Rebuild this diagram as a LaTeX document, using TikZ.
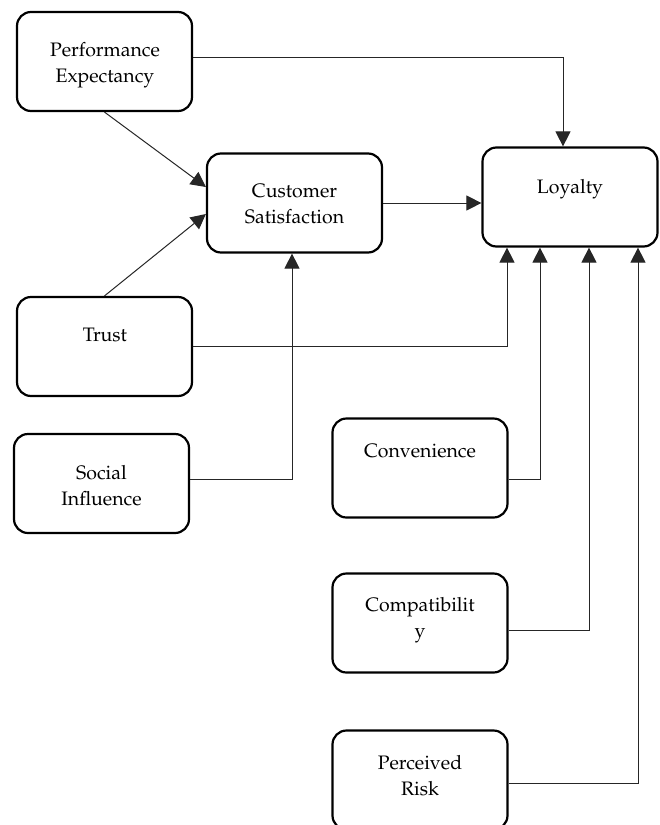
\documentclass[tikz,border=0pt]{standalone}
\usepackage[T1]{fontenc}
\usepackage{mathpazo}
\usetikzlibrary{arrows.meta}
\tikzset{
  box/.style={draw=black, line width=2.2pt, rounded corners=14pt, rectangle,
    minimum width=175pt, minimum height=99pt, inner sep=0pt},
  txt/.style={inner sep=0pt, align=center, anchor=base,
    font=\fontsize{19.5}{25.5}\selectfont},
  conn/.style={draw=black!85, line width=1pt},
  arr/.style={conn, -{Triangle[length=15pt,width=15pt]}}
}
\begin{document}
\begin{tikzpicture}[x=1pt,y=-1pt]
\useasboundingbox (0,0) rectangle (660,825);
% boxes
\node[box] (pe)    at (104.5,61.5) {};
\node[box] (cs)    at (294.5,203)  {};
\node[box] (loy)   at (570,197)    {};
\node[box] (trust) at (104.5,346.5){};
\node[box] (si)    at (101.5,483.5){};
\node[box] (conv)  at (420,468)    {};
\node[box] (comp)  at (420,623)    {};
\node[box] (pr)    at (420,780)    {};
% texts (positioned at the baseline of the last line)
\node[txt] (pet)    at (105,82)    {Performance\\Expectancy};
\node[txt] (cst)    at (294.5,223) {Customer\\Satisfaction};
\node[txt] (loyt)   at (570,193)   {Loyalty};
\node[txt] (trustt) at (105,341)   {Trust};
\node[txt] (sit)    at (101.5,505) {Social\\Influence};
\node[txt] (convt)  at (420,457)   {Convenience};
\node[txt] (compt)  at (420,637)   {Compatibilit\\y};
\node[txt] (prt)    at (420,795)   {Perceived\\Risk};
% connectors
\draw[arr] ([yshift=4.5pt]pe.east) -| ([xshift=-7pt]loy.north);
\draw[arr] (pe.south) -- ([yshift=16pt]cs.west);
\draw[arr] (trust.north) -- ([yshift=-11pt]cs.west);
\draw[arr] (cs.east) -- (cs.east -| loy.west);
\draw[arr] (trust.east) -| ([xshift=-63pt]loy.south);
\draw[arr] ([yshift=4.5pt]si.east) -| ([xshift=-2.5pt]cs.south);
\draw[arr] ([yshift=-11pt]conv.east) -| ([xshift=-30pt]loy.south);
\draw[arr] ([yshift=-7pt]comp.east) -| ([xshift=19pt]loy.south);
\draw[arr] ([yshift=-3pt]pr.east) -| ([xshift=68pt]loy.south);
\end{tikzpicture}
\end{document}
